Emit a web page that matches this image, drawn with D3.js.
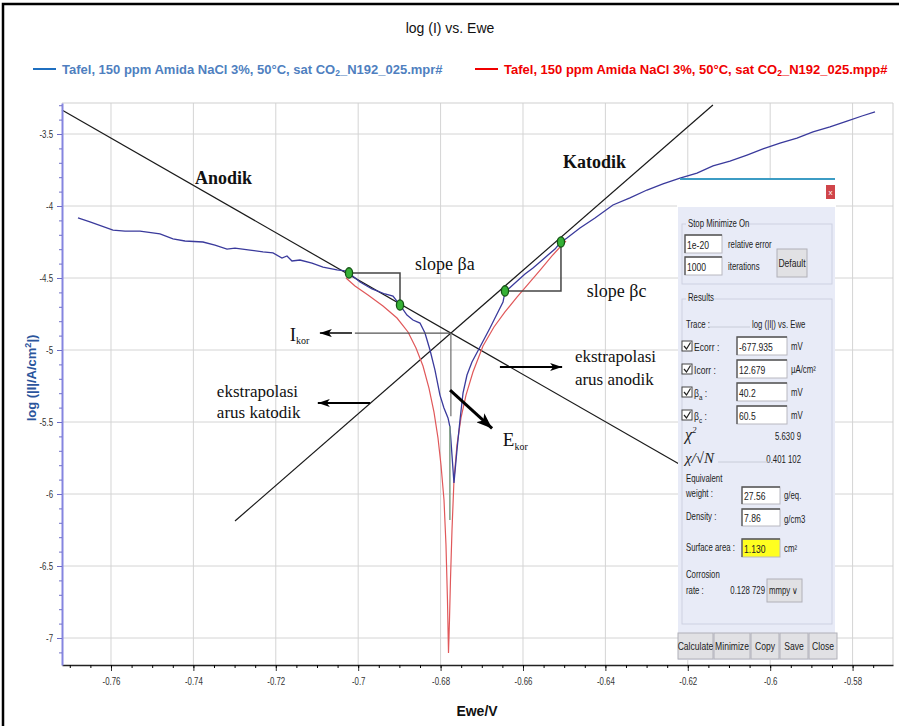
<!DOCTYPE html>
<html>
<head>
<meta charset="utf-8">
<script src="https://cdn.jsdelivr.net/npm/d3@7/dist/d3.min.js"></script>
<style>
  body { margin: 0; background: #fff; }
  svg text { font-family: Arial, "Liberation Sans", sans-serif; }
  .serif { font-family: "Liberation Serif", "Times New Roman", serif; }
</style>
</head>
<body>
<div id="canvas"></div>
<script>
// tick values
var xTickValues = [-0.76, -0.74, -0.72, -0.7, -0.68, -0.66, -0.64, -0.62, -0.6, -0.58];
var yTickValues = [-3.5, -4, -4.5, -5, -5.5, -6, -6.5, -7];

// measured trace (.mpr#), Ewe in V, log|I|
var measuredE = [-0.76801, -0.76510, -0.75951, -0.75660, -0.75296, -0.74811, -0.74495, -0.74204, -0.73767, -0.73476,
  -0.73184, -0.72990, -0.72626, -0.72311, -0.72068, -0.71850, -0.71728, -0.71607, -0.71413, -0.71121,
  -0.70854, -0.70515, -0.70320, -0.70223, -0.69956, -0.69665, -0.69350, -0.69155, -0.68985, -0.68816,
  -0.68670, -0.68500, -0.68379, -0.68257, -0.68136, -0.68015, -0.67918, -0.67820, -0.67772, -0.67675,
  -0.67602, -0.67529, -0.67456, -0.67359, -0.67238, -0.67044, -0.66801, -0.66631, -0.66485, -0.66437,
  -0.66194, -0.65951, -0.65757, -0.65587, -0.65393, -0.65223, -0.65102, -0.64932, -0.64617, -0.64252,
  -0.63816, -0.63403, -0.62990, -0.62602, -0.62189, -0.61777, -0.61388, -0.60976, -0.60563, -0.60175,
  -0.59762, -0.59350, -0.58961, -0.58549, -0.58136, -0.57772, -0.57456];
var measuredLogI = [-4.083, -4.111, -4.167, -4.174, -4.174, -4.194, -4.229, -4.243, -4.250, -4.271,
  -4.299, -4.292, -4.306, -4.319, -4.326, -4.361, -4.347, -4.382, -4.375, -4.396,
  -4.424, -4.444, -4.451, -4.465, -4.528, -4.576, -4.611, -4.625, -4.688, -4.757,
  -4.792, -4.813, -4.882, -5.000, -5.139, -5.313, -5.403, -5.472, -5.535, -5.924,
  -5.694, -5.486, -5.299, -5.174, -5.083, -4.979, -4.847, -4.750, -4.667, -4.597,
  -4.535, -4.472, -4.431, -4.389, -4.340, -4.299, -4.257, -4.222, -4.153, -4.083,
  -3.993, -3.944, -3.889, -3.847, -3.806, -3.771, -3.722, -3.688, -3.646, -3.604,
  -3.563, -3.528, -3.486, -3.451, -3.410, -3.375, -3.347];

// Tafel fit trace (.mpp#)
var fitE = [-0.70296, -0.70078, -0.69762, -0.69398, -0.69058, -0.68791, -0.68597, -0.68427, -0.68282, -0.68160,
  -0.68063, -0.67990, -0.67917, -0.67869, -0.67833, -0.67808, -0.67784, -0.67760, -0.67723, -0.67675,
  -0.67602, -0.67505, -0.67383, -0.67214, -0.66971, -0.66704, -0.66437, -0.66146, -0.65854, -0.65563,
  -0.65296, -0.65078, -0.64956];
var fitLogI = [-4.500, -4.556, -4.618, -4.694, -4.778, -4.875, -4.986, -5.111, -5.264, -5.431,
  -5.611, -5.799, -6.042, -6.354, -6.736, -7.104, -6.875, -6.597, -6.250, -5.903,
  -5.660, -5.472, -5.313, -5.153, -4.972, -4.840, -4.736, -4.632, -4.535, -4.438,
  -4.347, -4.278, -4.243];

// tangent (extrapolation) lines
var anodicTangentE = [-0.7719, -0.6221];
var anodicTangentLogI = [-3.333, -5.792];
var cathodicTangentE = [-0.7299, -0.6139];
var cathodicTangentLogI = [-6.1875, -3.2986];

// green fit-range points
var fitPointE = [-0.70223, -0.68985, -0.66437, -0.65078];
var fitPointLogI = [-4.465, -4.6875, -4.590, -4.250];

// dialog contents
var stopValues = ["1e-20", "1000"];
var stopLabels = ["relative error", "iterations"];
var resultNames = ["Ecorr", "Icorr", "\u03b2", "\u03b2"];
var resultSubs = ["", "", "a", "c"];
var resultValues = ["-677.935", "12.679", "40.2", "60.5"];
var resultUnits = ["mV", "\u00b5A/cm\u00b2", "mV", "mV"];
var dialogButtons = ["Calculate", "Minimize", "Copy", "Save", "Close"];
var buttonWidths = [35, 36, 28, 28, 28];

var width = 899, height = 726;

var svg = d3.select("#canvas").append("svg")
  .attr("width", width)
  .attr("height", height);

var defs = svg.append("defs");
function arrowMarker(id, len, wid) {
  defs.append("marker")
    .attr("id", id)
    .attr("markerUnits", "userSpaceOnUse")
    .attr("markerWidth", len).attr("markerHeight", wid)
    .attr("refX", len).attr("refY", wid / 2)
    .attr("orient", "auto")
    .append("path")
    .attr("d", "M0,0L" + len + "," + (wid / 2) + "L0," + wid + "L" + (len * 0.25) + "," + (wid / 2) + "Z")
    .attr("fill", "#000");
}
arrowMarker("headS", 12, 8);
arrowMarker("headL", 16, 12);

// outer frame
svg.append("rect")
  .attr("x", 3).attr("y", 4).attr("width", 900).attr("height", 730)
  .attr("fill", "none").attr("stroke", "#000").attr("stroke-width", 2.5);

// title + legend
svg.append("text").attr("x", 450).attr("y", 33).attr("text-anchor", "middle")
  .attr("font-size", 14).attr("fill", "#111").text("log (I) vs. Ewe");

function legendEntry(lx, color, lineColor, fileTail) {
  svg.append("line").attr("x1", lx).attr("x2", lx + 23).attr("y1", 69).attr("y2", 69)
    .attr("stroke", lineColor).attr("stroke-width", 2);
  var t = svg.append("text").attr("x", lx + 29).attr("y", 74)
    .attr("font-size", 13).attr("font-weight", "bold").attr("fill", color);
  t.append("tspan").text("Tafel, 150 ppm Amida NaCl 3%, 50\u00b0C, sat CO");
  t.append("tspan").attr("font-size", 8.5).attr("dy", 2).text("2");
  t.append("tspan").attr("dy", -2).text("_N192_025." + fileTail);
}
legendEntry(33, "#4f7fc0", "#1f6fc0", "mpr#");
legendEntry(475, "#f00000", "#f00000", "mpp#");

// scales
var x = d3.scaleLinear().domain([-0.77189, -0.57019]).range([62, 893]);
var y = d3.scaleLinear().domain([-3.2847, -7.1875]).range([103, 665]);

var plot = svg.append("g");

// grid
plot.selectAll(".vgrid").data(xTickValues).enter().append("line")
  .attr("x1", function(d) { return x(d); }).attr("x2", function(d) { return x(d); })
  .attr("y1", 103).attr("y2", 665)
  .attr("stroke", "#d4d4d4");
plot.selectAll(".hgrid").data(yTickValues).enter().append("line")
  .attr("x1", 62).attr("x2", 893)
  .attr("y1", function(d) { return y(d); }).attr("y2", function(d) { return y(d); })
  .attr("stroke", "#d4d4d4");
plot.append("path").attr("d", "M62,103H893V665").attr("fill", "none").attr("stroke", "#cfcfcf");

var line = d3.line()
  .x(function(d) { return x(d[0]); })
  .y(function(d) { return y(d[1]); });

// tangent lines
plot.append("path").datum(d3.zip(anodicTangentE, anodicTangentLogI))
  .attr("d", line).attr("fill", "none").attr("stroke", "#1a1a1a").attr("stroke-width", 1.2);
plot.append("path").datum(d3.zip(cathodicTangentE, cathodicTangentLogI))
  .attr("d", line).attr("fill", "none").attr("stroke", "#1a1a1a").attr("stroke-width", 1.2);

// intersection of the tangents -> Ecorr / Icorr
var sa = (anodicTangentLogI[1] - anodicTangentLogI[0]) / (anodicTangentE[1] - anodicTangentE[0]);
var sc = (cathodicTangentLogI[1] - cathodicTangentLogI[0]) / (cathodicTangentE[1] - cathodicTangentE[0]);
var eCorr = (cathodicTangentLogI[0] - sc * cathodicTangentE[0] - anodicTangentLogI[0] + sa * anodicTangentE[0]) / (sa - sc);
var iCorr = anodicTangentLogI[0] + sa * (eCorr - anodicTangentE[0]);

// fit curve and measured curve
plot.append("path").datum(d3.zip(fitE, fitLogI))
  .attr("d", line).attr("fill", "none").attr("stroke", "#e0585a").attr("stroke-width", 1.2);
plot.append("path").datum(d3.zip(measuredE, measuredLogI))
  .attr("d", line).attr("fill", "none").attr("stroke", "#3a3a9c").attr("stroke-width", 1.3);

// Ecorr vertical
plot.append("line").attr("x1", x(eCorr)).attr("x2", x(eCorr))
  .attr("y1", y(iCorr)).attr("y2", y(-5.46)).attr("stroke", "#777").attr("stroke-width", 1.3);
plot.append("line").attr("x1", x(eCorr) - 1).attr("x2", x(eCorr) - 1)
  .attr("y1", y(-5.53)).attr("y2", y(-6.18)).attr("stroke", "#7f9f84").attr("stroke-width", 1.5);

// Icorr horizontal + arrow
plot.append("line").attr("x1", x(eCorr)).attr("x2", x(-0.7008))
  .attr("y1", y(iCorr)).attr("y2", y(iCorr)).attr("stroke", "#555").attr("stroke-width", 1.2);
plot.append("line").attr("x1", x(-0.7015)).attr("x2", x(-0.7093))
  .attr("y1", y(iCorr)).attr("y2", y(iCorr)).attr("stroke", "#000").attr("stroke-width", 1.5)
  .attr("marker-end", "url(#headS)");

// slope brackets
function bracket(i0, i1) {
  plot.append("path")
    .attr("d", "M" + x(fitPointE[i0]) + "," + y(fitPointLogI[i0]) +
      "H" + x(fitPointE[i1]) + "V" + y(fitPointLogI[i1]))
    .attr("fill", "none").attr("stroke", "#444").attr("stroke-width", 1.5);
}
bracket(0, 1);
bracket(2, 3);

// arrows for extrapolation labels and Ecorr
plot.append("line").attr("x1", x(-0.6656)).attr("x2", x(-0.6505))
  .attr("y1", y(-5.118)).attr("y2", y(-5.118)).attr("stroke", "#000").attr("stroke-width", 2)
  .attr("marker-end", "url(#headS)");
plot.append("line").attr("x1", x(-0.6971)).attr("x2", x(-0.7098))
  .attr("y1", y(-5.368)).attr("y2", y(-5.368)).attr("stroke", "#000").attr("stroke-width", 2.2)
  .attr("marker-end", "url(#headS)");
plot.append("line").attr("x1", x(-0.6777)).attr("x2", x(-0.6675))
  .attr("y1", y(-5.278)).attr("y2", y(-5.545)).attr("stroke", "#000").attr("stroke-width", 3)
  .attr("marker-end", "url(#headL)");

// green markers
plot.selectAll(".fitpt").data(d3.zip(fitPointE, fitPointLogI)).enter().append("ellipse")
  .attr("cx", function(d) { return x(d[0]); })
  .attr("cy", function(d) { return y(d[1]); })
  .attr("rx", 3.6).attr("ry", 5.2)
  .attr("fill", "#36b136").attr("stroke", "#145214").attr("stroke-width", 1.3);

// annotation texts (serif, like the original overlay)
function note(ex, ly, str, size, bold) {
  return plot.append("text").attr("class", "serif")
    .attr("x", x(ex)).attr("y", y(ly))
    .attr("font-size", size).attr("font-weight", bold ? "bold" : "normal")
    .attr("fill", "#111").text(str);
}
note(-0.7396, -3.847, "Anodik", 18, true);
note(-0.6503, -3.736, "Katodik", 18, true);
note(-0.6862, -4.444, "slope \u03b2a", 18, false);
note(-0.6445, -4.632, "slope \u03b2c", 18, false);
note(-0.6474, -5.083, "ekstrapolasi", 17, false);
note(-0.6474, -5.243, "arus anodik", 17, false);
note(-0.7343, -5.326, "ekstrapolasi", 17, false);
note(-0.7343, -5.472, "arus katodik", 17, false);
var ik = note(-0.7166, -4.9375, "I", 19, false);
ik.append("tspan").attr("font-size", 10).attr("dy", 3).text("kor");
var ek = note(-0.6649, -5.667, "E", 19, false);
ek.append("tspan").attr("font-size", 10).attr("dy", 4).text("kor");

// axes
var xAxis = svg.append("g").attr("transform", "translate(0,665)")
  .call(d3.axisBottom(x).tickValues(xTickValues).tickSize(6).tickSizeOuter(0).tickFormat(String));
var xMinor = d3.range(-154, -113).map(function(i) { return i * 0.005; })
  .filter(function(v) { return v > -0.7719 && v < -0.5702; });
svg.append("g").attr("transform", "translate(0,665)")
  .call(d3.axisBottom(x).tickValues(xMinor).tickSize(3).tickSizeOuter(0).tickFormat(""))
  .select(".domain").remove();
xAxis.select(".domain").attr("stroke", "#222").attr("stroke-width", 1.6);
xAxis.selectAll("line").attr("stroke", "#333");
xAxis.selectAll("text").attr("y", 13).attr("font-size", 10.5).attr("fill", "#333")
  .attr("transform", "scale(0.75,1)");

var yAxis = svg.append("g").attr("transform", "translate(62,0)")
  .call(d3.axisLeft(y).tickValues(yTickValues).tickSize(5).tickSizeOuter(0).tickFormat(String));
var yMinor = d3.range(-71, -32).map(function(i) { return i / 10; })
  .filter(function(v) { return v > -7.18 && v < -3.29; });
svg.append("g").attr("transform", "translate(62,0)")
  .call(d3.axisLeft(y).tickValues(yMinor).tickSize(3).tickSizeOuter(0).tickFormat(""))
  .call(function(g) { g.select(".domain").remove(); g.selectAll("line").attr("stroke", "#7070c8"); });
yAxis.select(".domain").attr("stroke", "#8585e0").attr("stroke-width", 2);
yAxis.selectAll("line").attr("stroke", "#6a6ac8");
yAxis.selectAll("text").attr("x", -12).attr("font-size", 10.5).attr("fill", "#333")
  .attr("transform", "scale(0.75,1)");

// axis titles
svg.append("text").attr("x", 477).attr("y", 716).attr("text-anchor", "middle")
  .attr("font-size", 14).attr("font-weight", "bold").attr("fill", "#111").text("Ewe/V");
var yt = svg.append("text").attr("transform", "translate(36,378) rotate(-90)")
  .attr("text-anchor", "middle").attr("font-size", 13).attr("font-weight", "bold").attr("fill", "#2b559c");
yt.append("tspan").text("log (|I|/A/cm");
yt.append("tspan").attr("font-size", 9).attr("dy", -5).text("2");
yt.append("tspan").attr("dy", 5).text("|)");

// ---- Tafel fit dialog overlay ----
var dlg = svg.append("g");
function dText(px, py, str, opts) {
  opts = opts || {};
  return dlg.append("text")
    .attr("transform", "translate(" + px + "," + py + ") scale(0.78,1)")
    .attr("text-anchor", opts.anchor || "start")
    .attr("font-size", opts.size || 10)
    .attr("fill", opts.color || "#222")
    .text(str);
}
function inputBox(px, py, w, h, str, fill) {
  dlg.append("rect").attr("x", px).attr("y", py).attr("width", w).attr("height", h)
    .attr("fill", fill || "#fff").attr("stroke", "#b8b8c0");
  dlg.append("path").attr("d", "M" + px + "," + (py + h) + "V" + py + "H" + (px + w))
    .attr("fill", "none").attr("stroke", "#555").attr("stroke-width", 1.3);
  dText(px + 2, py + h - 4, str, { size: 11 });
}
function button(px, py, w, h, str) {
  dlg.append("rect").attr("x", px).attr("y", py).attr("width", w).attr("height", h)
    .attr("fill", "#e1e1e4").attr("stroke", "#b0b0b8");
  dText(px + w / 2, py + h / 2 + 4, str, { anchor: "middle", size: 11 });
}
function checkbox(px, py) {
  dlg.append("rect").attr("x", px).attr("y", py).attr("width", 10).attr("height", 10)
    .attr("fill", "#fff").attr("stroke", "#444");
  dlg.append("path").attr("d", "M" + (px + 2) + "," + (py + 5) + "l2.5,3l4,-6.5")
    .attr("fill", "none").attr("stroke", "#222").attr("stroke-width", 1.2);
}

dlg.append("line").attr("x1", 680).attr("x2", 835).attr("y1", 179).attr("y2", 179)
  .attr("stroke", "#3c9cc4").attr("stroke-width", 2);
dlg.append("rect").attr("x", 677).attr("y", 180).attr("width", 159).attr("height", 28).attr("fill", "#fff");
dlg.append("rect").attr("x", 826).attr("y", 185).attr("width", 9).attr("height", 14).attr("fill", "#d0454a");
dlg.append("text").attr("x", 830.5).attr("y", 195).attr("text-anchor", "middle")
  .attr("font-size", 8).attr("fill", "#fff").text("x");
dlg.append("rect").attr("x", 678).attr("y", 207).attr("width", 157).attr("height", 453)
  .attr("fill", "#e8ebf7");

// stop minimize group
dlg.append("rect").attr("x", 682).attr("y", 224).attr("width", 150).attr("height", 60)
  .attr("fill", "none").attr("stroke", "#cdd1e2");
dlg.append("rect").attr("x", 686).attr("y", 218).attr("width", 56).attr("height", 10).attr("fill", "#e8ebf7");
dText(688, 227, "Stop Minimize On");
stopValues.forEach(function(v, i) {
  inputBox(685, 235 + i * 22, 37, 18, v);
  dText(728, 248 + i * 22, stopLabels[i]);
});
button(777, 249, 30, 28, "Default");

// results group
dlg.append("rect").attr("x", 682).attr("y", 299).attr("width", 150).attr("height", 325)
  .attr("fill", "none").attr("stroke", "#cdd1e2");
dlg.append("rect").attr("x", 686).attr("y", 292).attr("width", 28).attr("height", 10).attr("fill", "#e8ebf7");
dText(688, 301, "Results");
dText(686, 328, "Trace :");
dlg.append("line").attr("x1", 708).attr("x2", 750).attr("y1", 327).attr("y2", 327).attr("stroke", "#c8ccd8");
dText(752, 328, "log (|I|) vs. Ewe");

resultNames.forEach(function(n, i) {
  var ry = 337 + i * 23;
  checkbox(682, ry + 4);
  var t = dText(694, ry + 14, n, { size: 11 });
  if (resultSubs[i]) t.append("tspan").attr("font-size", 8).attr("dy", 3).text(resultSubs[i]);
  t.append("tspan").attr("dy", resultSubs[i] ? -3 : 0).text(" :");
  inputBox(737, ry, 50, 18, resultValues[i]);
  dText(791, ry + 13, resultUnits[i]);
});

var chi = dlg.append("text").attr("class", "serif").attr("x", 685).attr("y", 440)
  .attr("font-size", 16).attr("font-style", "italic").attr("fill", "#222").text("\u03c7");
chi.append("tspan").attr("font-size", 9).attr("dy", -7).text("2");
dText(801, 440, "5.630 9", { anchor: "end" });
dlg.append("text").attr("class", "serif").attr("x", 685).attr("y", 463)
  .attr("font-size", 15).attr("font-style", "italic").attr("fill", "#222").text("\u03c7/\u221aN");
dText(801, 463, "0.401 102", { anchor: "end" });
dlg.append("line").attr("x1", 718).attr("x2", 770).attr("y1", 462).attr("y2", 462).attr("stroke", "#c8ccd8");

dText(686, 482, "Equivalent");
dText(686, 497, "weight :");
inputBox(742, 487, 38, 17, "27.56");
dText(784, 499, "g/eq.");
dText(686, 520, "Density :");
inputBox(742, 509, 38, 17, "7.86");
dText(784, 523, "g/cm3");
dText(686, 551, "Surface area :");
inputBox(742, 539, 38, 18, "1.130", "#ffff20");
dText(784, 552, "cm\u00b2");
dText(686, 578, "Corrosion");
dText(686, 594, "rate :");
dText(765, 594, "0.128 729", { anchor: "end" });
dlg.append("rect").attr("x", 767).attr("y", 579).attr("width", 35).attr("height", 23)
  .attr("fill", "#e1e1e4").attr("stroke", "#b0b0b8");
dText(769, 594, "mmpy  \u2228");

var bx = 678;
dialogButtons.forEach(function(b, i) {
  button(bx, 633, buttonWidths[i], 26, b);
  bx += buttonWidths[i] + 1;
});
</script>
</body>
</html>
